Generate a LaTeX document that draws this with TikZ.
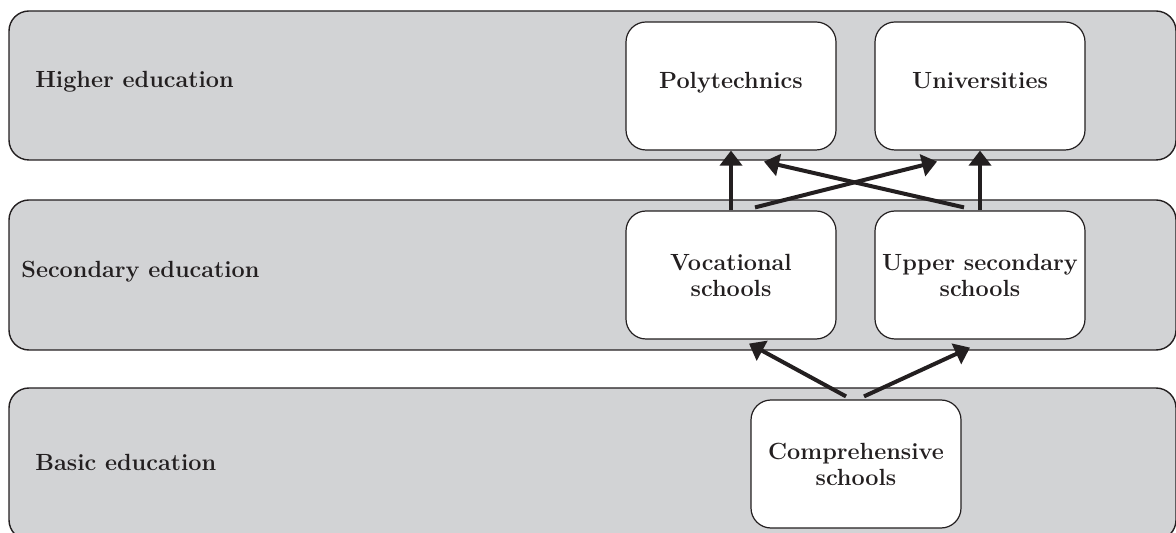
\documentclass[tikz,border=0pt]{standalone}
\usepackage{tikz}
\usetikzlibrary{positioning, arrows.meta}
\definecolor{bandgray}{RGB}{210,211,213}
\definecolor{inkgray}{RGB}{35,31,32}
\tikzset{
	every node/.append style={
		font={\fontsize{11.7}{13}\selectfont\bfseries},
		text=inkgray,
	},
	band/.append style={
		draw=inkgray,
		fill=bandgray,
		line width=0.7pt,
		rounded corners=10pt,
		minimum width=583.5pt,
	},
	school/.append style={
		draw=inkgray,
		fill=white,
		line width=0.6pt,
		rounded corners=10pt,
		align=center,
		minimum width=105pt,
		minimum height=64pt,
	},
	bandlabel/.append style={
		anchor=west,
		inner sep=0pt,
	},
	flow/.append style={
		draw=inkgray,
		line width=2pt,
		-{Triangle[length=7.5pt,width=11pt]},
	}
}

\begin{document}
\begin{tikzpicture}[x=0.5pt, y=-0.5pt]
		\useasboundingbox (0,0) rectangle (1176,533);
		
		\node(higher)[band, minimum height=74.5pt] at (592.5,85.5) {};
		\node(secondary)[band, minimum height=75pt] at (592.5,275) {};
		\node(basic)[band, minimum height=76pt] at (592.5,464) {};
		
		\node(higherlbl)[bandlabel] at (35,82) {Higher education};
		\node(secondarylbl)[bandlabel] at (21,272) {Secondary education};
		\node(basiclbl)[bandlabel] at (35,462) {Basic education};
		
		\node(poly)[school] at (731,86) {Polytechnics\\[-7pt]};
		\node(univ)[school] at (980,86) {Universities\\[-7pt]};
		\node(voc)[school] at (731,275) {Vocational\\schools};
		\node(upper)[school] at (980,275) {Upper secondary\\schools};
		\node(comp)[school] at (856,464) {Comprehensive\\schools};
		
		\draw[flow] (voc) -- (poly);
		\draw[flow] (upper) -- (univ);
		\draw[flow] ([xshift=12pt, yshift=1.5pt]voc.north) -- ([xshift=-21.5pt, yshift=-5.5pt]univ.south);
		\draw[flow] ([xshift=-8pt, yshift=1.5pt]upper.north) -- ([xshift=16.5pt, yshift=-5.5pt]poly.south);
		
		\draw[flow] ([xshift=-5pt, yshift=1.5pt]comp.north) -- ([xshift=9pt, yshift=-2pt]voc.south);
		\draw[flow] ([xshift=4pt, yshift=1.5pt]comp.north) -- ([xshift=-5pt, yshift=-4pt]upper.south);
		\end{tikzpicture}
\end{document}
